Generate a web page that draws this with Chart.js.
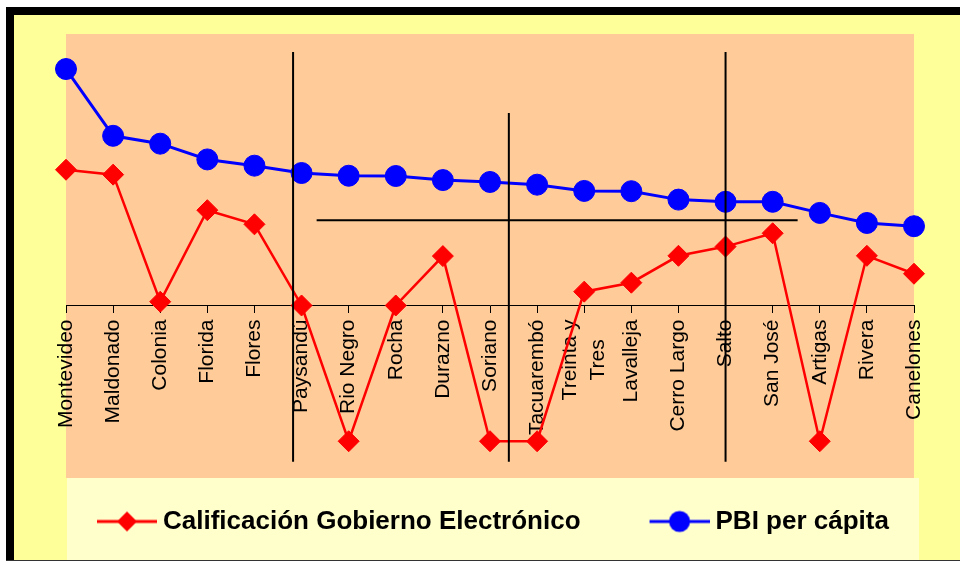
<!DOCTYPE html>
<html>
<head>
<meta charset="utf-8">
<script src="https://cdn.jsdelivr.net/npm/chart.js@4/dist/chart.umd.min.js"></script>
<style>
html,body{margin:0;padding:0;background:#fff;}
#wrap{width:960px;height:561px;}
</style>
</head>
<body>
<div id="wrap"><canvas id="c" width="960" height="561"></canvas></div>
<script>
// ---- data ----
const categories = ['Montevideo','Maldonado','Colonia','Florida','Flores','Paysandú','Rio Negro','Rocha','Durazno','Soriano','Tacuarembó',['Treinta y','Tres'],'Lavalleja','Cerro Largo','Salto','San José','Artigas','Rivera','Canelones'];
const calificacion = [5.00, 4.82, 0.14, 3.51, 2.99, 0.00, -5.00, 0.00, 1.82, -5.00, -5.00, 0.51, 0.84, 1.83, 2.17, 2.66, -5.00, 1.83, 1.17];
const pbi = [8.71, 6.25, 5.96, 5.38, 5.15, 4.88, 4.78, 4.77, 4.62, 4.55, 4.45, 4.22, 4.21, 3.90, 3.82, 3.82, 3.41, 3.04, 2.92];
const seriesNames = ['Calificación Gobierno Electrónico', 'PBI per cápita'];
const yMin = -6.354, yMax = 10;
// reference lines (in data units: x = category index, y = value)
const vLines = [
  {x: 4.82, y1: 9.34, y2: -5.76},
  {x: 9.40, y1: 7.09, y2: -5.76},
  {x: 14.0, y1: 9.34, y2: -5.76}
];
const hLines = [{y: 3.14, x1: 5.32, x2: 15.53}];

// ---- styles ----
const RED = '#FF0000', BLUE = '#0000FF';
const FONT = '"Liberation Sans", Arial, sans-serif';

function legendIcon(color, style) {
  const cv = document.createElement('canvas');
  cv.width = 126; cv.height = 26;
  const c = cv.getContext('2d');
  c.strokeStyle = color; c.fillStyle = color; c.lineWidth = 3;
  c.beginPath(); c.moveTo(66, 13); c.lineTo(126, 13); c.stroke();
  c.beginPath();
  if (style === 'diamond') {
    c.moveTo(96, 3); c.lineTo(106, 13); c.lineTo(96, 23); c.lineTo(86, 13); c.closePath();
  } else {
    c.arc(96, 13, 10.5, 0, Math.PI * 2);
  }
  c.fill();
  return cv;
}
const icons = [legendIcon(RED, 'diamond'), legendIcon(BLUE, 'circle')];

const bgPlugin = {
  id: 'bg',
  beforeDraw(chart) {
    const ctx = chart.ctx, W = chart.width, H = chart.height;
    const ca = chart.chartArea;
    ctx.save();
    ctx.fillStyle = '#FFFFFF'; ctx.fillRect(0, 0, W, H);
    ctx.fillStyle = '#000000';
    ctx.fillRect(6, 7, W - 6, 8);
    ctx.fillRect(6, 7, 8, H - 7);
    ctx.fillStyle = '#FFFF99'; ctx.fillRect(14, 15, W - 14, H - 16);
    ctx.fillStyle = '#333333'; ctx.fillRect(6, H - 1, W - 6, 1);
    ctx.fillStyle = '#FFCC99'; ctx.fillRect(ca.left, ca.top, ca.right - ca.left, ca.bottom - ca.top);
    ctx.fillStyle = '#FFFFCC'; ctx.fillRect(ca.left + 1, ca.bottom, ca.right + 5 - (ca.left + 1), H - 1 - ca.bottom);
    ctx.restore();
  }
};

const linesPlugin = {
  id: 'quadLines',
  afterDatasetsDraw(chart) {
    const ctx = chart.ctx, xs = chart.scales.x, ys = chart.scales.y;
    ctx.save();
    ctx.strokeStyle = '#000000'; ctx.lineWidth = 2;
    vLines.forEach(l => {
      const x = xs.getPixelForValue(l.x);
      ctx.beginPath(); ctx.moveTo(x, ys.getPixelForValue(l.y1)); ctx.lineTo(x, ys.getPixelForValue(l.y2)); ctx.stroke();
    });
    hLines.forEach(l => {
      const y = ys.getPixelForValue(l.y);
      ctx.beginPath(); ctx.moveTo(xs.getPixelForValue(l.x1), y); ctx.lineTo(xs.getPixelForValue(l.x2), y); ctx.stroke();
    });
    ctx.restore();
  }
};

// centre multi-line tick labels (Excel style) on their tick
function centreMultiline(scale) {
  if (scale._centredPatch) return;
  scale._centredPatch = true;
  const proto = Object.getPrototypeOf(scale);
  scale._computeLabelItems = function (area) {
    const items = proto._computeLabelItems.call(this, area);
    try {
      const ctx = this.ctx;
      items.forEach(it => {
        if (Array.isArray(it.label) && it.label.length > 1 && it.options && it.options.translation) {
          ctx.save();
          ctx.font = it.font.string;
          const maxW = Math.max(...it.label.map(t => ctx.measureText(t).width));
          ctx.restore();
          const lh = it.font.lineHeight;
          it.options.translation[0] -= lh * (it.label.length - 1) / 2;
          it.options.translation[1] += maxW / 2;
          it.options.textAlign = 'center';
        }
      });
    } catch (e) {}
    return items;
  };
}

new Chart(document.getElementById('c'), {
  type: 'line',
  data: {
    labels: categories,
    datasets: [
      {
        label: seriesNames[0], data: calificacion,
        borderColor: RED, backgroundColor: RED, borderWidth: 2.5,
        pointStyle: 'rectRot', pointRadius: 10.5, pointBorderWidth: 1,
        pointBackgroundColor: RED, pointBorderColor: RED,
        tension: 0, clip: false, fill: false
      },
      {
        label: seriesNames[1], data: pbi,
        borderColor: BLUE, backgroundColor: BLUE, borderWidth: 3,
        pointStyle: 'circle', pointRadius: 10.5, pointBorderWidth: 1,
        pointBackgroundColor: BLUE, pointBorderColor: BLUE,
        tension: 0, clip: false, fill: false
      }
    ]
  },
  options: {
    responsive: false,
    animation: false,
    events: [],
    layout: { padding: { left: 28, right: 46, top: 34, bottom: 16.5 } },
    scales: {
      x: {
        type: 'category',
        position: { y: 0 },
        offset: false,
        afterFit(s) { s.height = 0; },
        afterUpdate(s) { centreMultiline(s); },
        grid: { display: true, drawOnChartArea: false, drawTicks: true, tickLength: 7, tickColor: '#000000', tickWidth: 1 },
        border: { display: true, color: '#000000', width: 1 },
        ticks: {
          autoSkip: false, minRotation: 90, maxRotation: 90, padding: 7,
          color: '#000000', font: { family: FONT, size: 21, lineHeight: 1.3 }
        }
      },
      y: {
        type: 'linear', min: yMin, max: yMax,
        afterFit(s) { s.width = 38; },
        grid: { display: false },
        border: { display: false },
        ticks: { display: false }
      }
    },
    plugins: {
      tooltip: { enabled: false },
      legend: {
        display: true,
        position: 'bottom',
        align: 'start',
        title: { display: true, text: '', font: { size: 1, lineHeight: 1 }, padding: { top: 19.5, bottom: 0 } },
        labels: {
          usePointStyle: true,
          pointStyleWidth: 112,
          padding: 10,
          color: '#000000',
          font: { family: FONT, size: 26, weight: 'bold' },
          generateLabels(chart) {
            const items = Chart.defaults.plugins.legend.labels.generateLabels(chart);
            items.forEach((it, i) => { it.pointStyle = icons[i]; });
            return items;
          }
        }
      }
    }
  },
  plugins: [bgPlugin, linesPlugin]
});
</script>
</body>
</html>
